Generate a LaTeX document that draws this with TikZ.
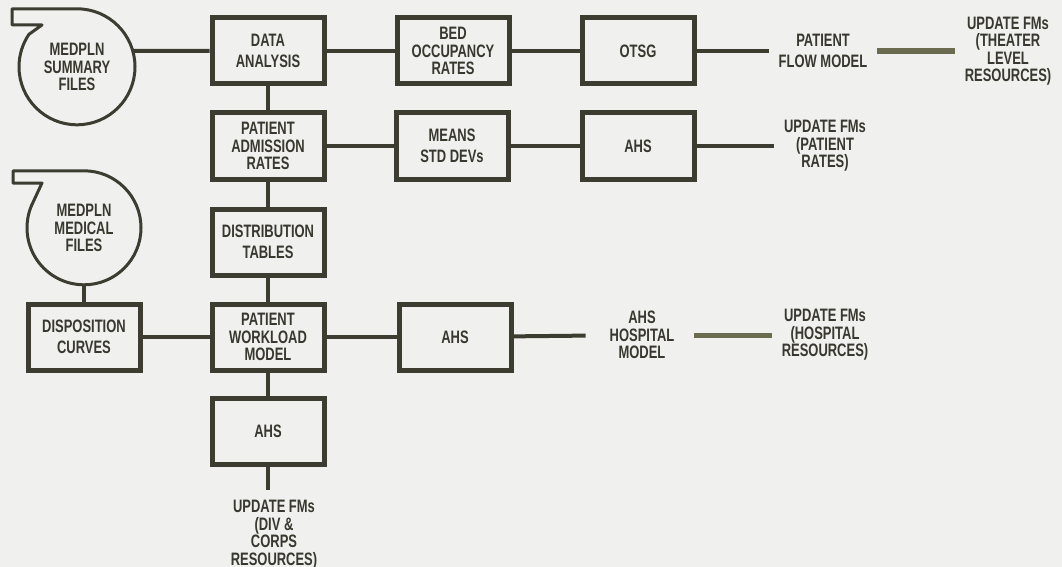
\documentclass[tikz,border=0pt]{standalone}
\usepackage{fontspec}
\newfontfamily\stencil[FakeStretch=0.72]{Liberation Sans}
\newcommand\lettering{\stencil\bfseries\fontsize{18}{17.5}\selectfont}
\usepackage{xcolor}
\definecolor{ink}{HTML}{3C3D30}
\definecolor{olive}{HTML}{6B6B50}
\definecolor{paper}{HTML}{F0F0EE}
\definecolor{pencil}{HTML}{38382F}

\begin{document}
\begin{tikzpicture}[
  x=1pt, y=-1pt,
  box/.style={draw=ink, line width=5pt, minimum width=112pt, minimum height=66pt,
              inner sep=0pt, align=center, font=\lettering, text=pencil},
  lbl/.style={align=center, font=\lettering, text=pencil, inner sep=10pt},
  disk/.style={circle, inner sep=0pt, align=center, font=\lettering, text=pencil},
  outline/.style={draw=ink, line width=3pt, line join=round},
  link/.style={draw=ink, line width=4pt},
  heavy/.style={draw=olive, line width=6pt}
]
  \useasboundingbox[fill=paper] (0,0) rectangle (1062,567);

  % File symbols
  \node[disk, minimum size=116pt] (sumfiles) at (77,67) {MEDPLN\\SUMMARY\\FILES};
  \draw[outline] (sumfiles.north) arc[start angle=90, end angle=-214, radius=58pt]
    -- (42,25) -- (12,25) -- (12,9) -- cycle;
  \node[disk, minimum size=114pt] (medfiles) at (84,228) {MEDPLN\\MEDICAL\\FILES};
  \draw[outline] (medfiles.north) arc[start angle=90, end angle=-203, radius=57pt]
    -- (42,183) -- (13,183) -- (13,171) -- cycle;

  % Top row
  \node[box] (analysis) at (268,51) {DATA\\[3pt]ANALYSIS};
  \node[box] (occupancy) at (453,51) {BED\\OCCUPANCY\\RATES};
  \node[box] (otsg) at (638,51) {OTSG};
  \node[lbl] (patflow) at (823,51) {PATIENT\\[4pt]FLOW MODEL};
  \node[lbl] (theater) at (1008,51) {UPDATE FMs\\(THEATER\\LEVEL\\RESOURCES)};

  % Second row
  \node[box] (admission) at (268,146) {PATIENT\\ADMISSION\\RATES};
  \node[box] (means) at (452,146) {MEANS\\[3pt]STD DEVs};
  \node[box] (ahsrates) at (638,146) {AHS};
  \node[lbl] (patrates) at (825,146) {UPDATE FMs\\(PATIENT\\RATES)};

  % Middle column
  \node[box] (disttables) at (268,242) {DISTRIBUTION\\[3pt]TABLES};

  % Workload row
  \node[box] (disposition) at (84,337) {DISPOSITION\\[3pt]CURVES};
  \node[box] (workload) at (268,337) {PATIENT\\WORKLOAD\\MODEL};
  \node[box] (ahshosp) at (455,337) {AHS};
  \node[lbl] (hospmodel) at (642,335) {AHS\\HOSPITAL\\MODEL};
  \node[lbl] (hospres) at (825,335) {UPDATE FMs\\(HOSPITAL\\RESOURCES)};

  % Bottom
  \node[box] (ahsdiv) at (268,431) {AHS};
  \node[lbl, anchor=north] (divtext) at (274,490) {UPDATE FMs\\(DIV \&\\CORPS\\RESOURCES)};

  % Connectors
  \draw[link] (sumfiles.16) -- (analysis.west);
  \draw[link] (analysis) -- (occupancy);
  \draw[link] (occupancy) -- (otsg);
  \draw[link] (otsg) -- (patflow);
  \draw[heavy] (patflow) -- (theater);

  \draw[link] (analysis) -- (admission);
  \draw[link] (admission) -- (means);
  \draw[link] (means) -- (ahsrates);
  \draw[link] (ahsrates) -- (patrates);

  \draw[link] (admission) -- (disttables);
  \draw[link] (disttables) -- (workload);
  \draw[link] (medfiles) -- (disposition);
  \draw[link] (disposition) -- (workload);
  \draw[link] (workload) -- (ahshosp);
  \draw[link, shorten >=14pt] (ahshosp) -- (hospmodel);
  \draw[heavy, line width=5pt, shorten <=10pt] (hospmodel) -- (hospres);

  \draw[link] (workload) -- (ahsdiv);
  \draw[link] (ahsdiv.south) -- (ahsdiv.south |- divtext.north);
\end{tikzpicture}
\end{document}
